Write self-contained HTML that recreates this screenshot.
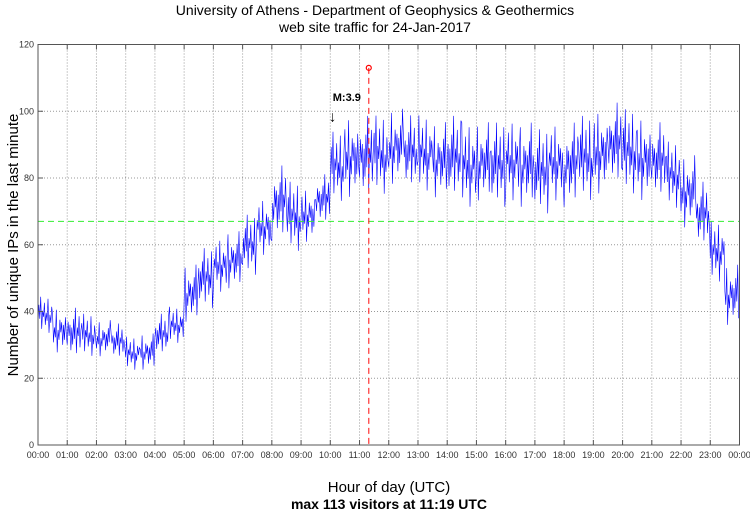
<!DOCTYPE html>
<html><head><meta charset="utf-8"><style>
body{margin:0;background:#fff;font-family:"Liberation Sans",sans-serif}
</style></head><body>
<svg id="chart" width="750" height="511" xmlns="http://www.w3.org/2000/svg" font-family="Liberation Sans, sans-serif">
<text x="375" y="15" text-anchor="middle" font-size="14">University of Athens - Department of Geophysics &amp; Geothermics</text>
<text x="375" y="32" text-anchor="middle" font-size="14">web site traffic for 24-Jan-2017</text>
<text transform="translate(18,245) rotate(-90)" text-anchor="middle" font-size="15">Number of unique IPs in the last minute</text>
<text x="389" y="492" text-anchor="middle" font-size="15">Hour of day (UTC)</text>
<text x="389" y="509" text-anchor="middle" font-size="14" font-weight="bold">max 113 visitors at 11:19 UTC</text>
<g id="grid"></g><g id="series"></g><g id="axes"></g>
</svg>
<script>
const binStartsHour=[0,0.5,1,1.5,2,2.5,3,3.5,4,4.5,5,5.5,6,6.5,7,7.5,8,8.5,9,9.5,10,10.5,11,11.5,12,12.5,13,13.5,14,14.5,15,15.5,16,16.5,17,17.5,18,18.5,19,19.5,20,20.5,21,21.5,22,22.5,23,23.5];
const binLow=[33,27,25,26,26,25,22,22,26,30,36,40,45,46,50,56,60,57,60,65,72,73,72,74,77,75,75,73,72,70,72,70,72,70,68,72,70,72,74,76,74,72,72,70,64,58,48,35];
const binHigh=[45,42,42,40,38,37,33,34,40,42,55,60,63,65,70,75,85,80,78,82,95,100,100,100,102,100,100,98,100,98,98,98,99,98,96,98,98,100,102,104,102,100,98,92,88,80,68,55];
const yTicks=[0,20,40,60,80,100,120];
const xTickLabels=["00:00","01:00","02:00","03:00","04:00","05:00","06:00","07:00","08:00","09:00","10:00","11:00","12:00","13:00","14:00","15:00","16:00","17:00","18:00","19:00","20:00","21:00","22:00","23:00","00:00"];
const avgLine=67;
const maxValue=113, maxHour=11+19/60;
const markerLabel="M:3.9", markerHour=10.05;

const L=38,R=739.5,T=44.5,B=445;
const x=h=>L+h/24*(R-L);
const y=v=>B-v/120*(B-T);
const NS="http://www.w3.org/2000/svg";
function mk(tag,attrs,parent){const e=document.createElementNS(NS,tag);for(const k in attrs)e.setAttribute(k,attrs[k]);parent.appendChild(e);return e;}
const grid=document.getElementById('grid'),axes=document.getElementById('axes'),series=document.getElementById('series');
yTicks.forEach(v=>{
  const g=mk('line',{x1:L,x2:R,y1:y(v),y2:y(v),stroke:'#999','stroke-dasharray':'1,2','stroke-width':1},grid);
  
  
  mk('line',{x1:L,x2:L+5,y1:y(v),y2:y(v),stroke:'#555'},axes);
  const t=mk('text',{x:L-4,y:y(v)+3,'text-anchor':'end','font-size':9,fill:'#333'},axes);t.textContent=v;
  
  
});
xTickLabels.forEach((lab,i)=>{
  const xx=x(i);
  const g=mk('line',{x1:xx,x2:xx,y1:T,y2:B,stroke:'#999','stroke-dasharray':'1,2','stroke-width':1},grid);
  
  
  mk('line',{x1:xx,x2:xx,y1:B,y2:B-5,stroke:'#555'},axes);
  mk('line',{x1:xx,x2:xx,y1:T,y2:T+5,stroke:'#555'},axes);
  const t=mk('text',{x:xx,y:B+13,'text-anchor':'middle','font-size':9,fill:'#333'},axes);t.textContent=lab;
  
  
});
const frame=mk('rect',{x:L,y:T,width:R-L,height:B-T,fill:'none',stroke:'#555'},axes);


const pattern=[0.3,0.75,0.4,0.95,0.15,0.6,0.45,0.8,0.25,0.55,0.35,0.9,0.05,0.5,0.3,0.7,0.45,0.65,0.2,0.6];
let pts=[];
const perBin=16;
binStartsHour.forEach((h,i)=>{
  for(let k=0;k<perBin;k++){
    const f=pattern[(i*7+k)%pattern.length];
    const v=binLow[i]+f*(binHigh[i]-binLow[i]);
    pts.push(x(h+k/perBin*0.5).toFixed(1)+','+y(v).toFixed(1));
  }
});
const pl=mk('polyline',{points:pts.join(' '),fill:'none',stroke:'#0000ff','stroke-width':0.6},series);


const avg=mk('line',{x1:L,x2:R,y1:y(avgLine),y2:y(avgLine),stroke:'#33ee33','stroke-dasharray':'6,4','stroke-width':1},series);


const mv=mk('line',{x1:x(maxHour),x2:x(maxHour),y1:y(maxValue),y2:B,stroke:'#ff3333','stroke-dasharray':'6,4','stroke-width':1.2},series);


const mc=mk('circle',{cx:x(maxHour),cy:y(maxValue),r:2.5,fill:'none',stroke:'#ff0000','stroke-width':1.2},series);


const ml=mk('text',{x:x(markerHour)+1,y:y(103),'font-size':11,'font-weight':'bold'},series);ml.textContent=markerLabel;


const ma=mk('text',{x:x(markerHour)-3,y:y(97),'font-size':15},series);ma.textContent='↓';


</script>
</body></html>
